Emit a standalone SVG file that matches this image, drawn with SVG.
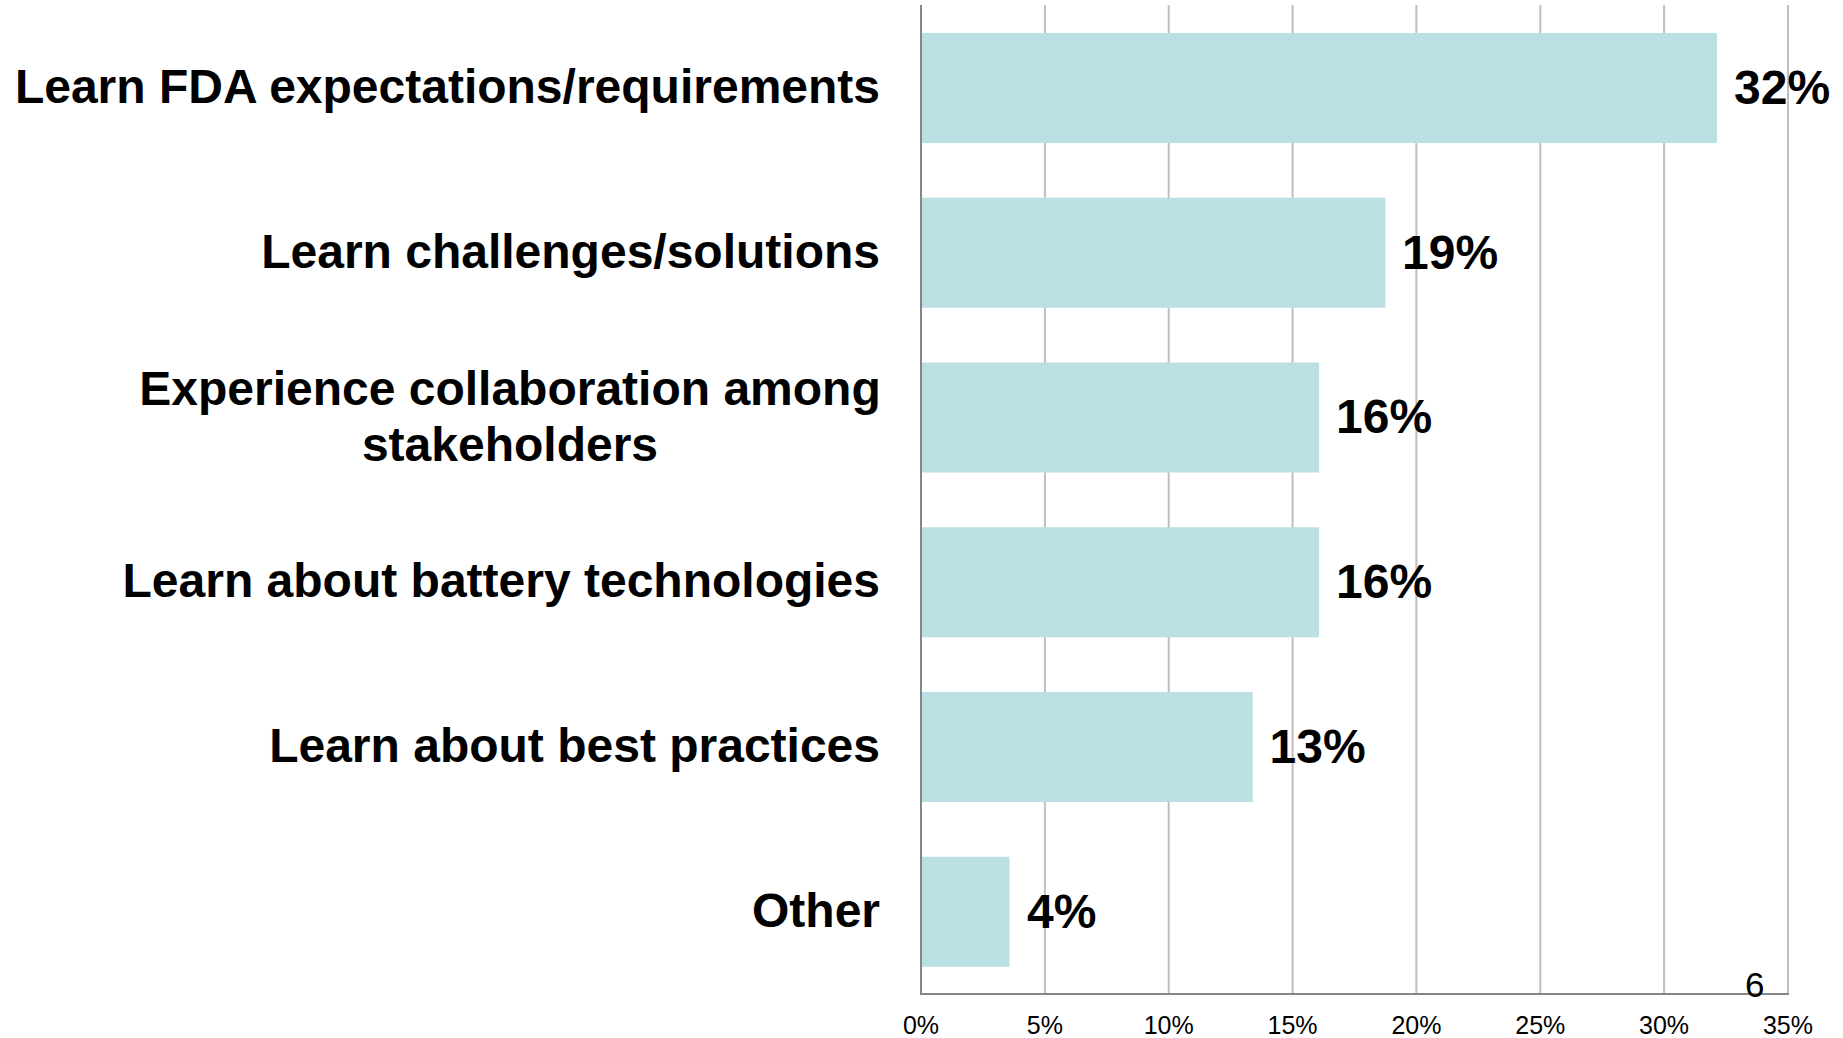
<svg xmlns="http://www.w3.org/2000/svg" width="1843" height="1038" viewBox="0 0 1843 1038">
<style>
.lbl{font-family:"Liberation Sans",Arial,sans-serif;font-weight:bold;font-size:48px;fill:#000}
.val{font-family:"Liberation Sans",Arial,sans-serif;font-weight:bold;font-size:48px;fill:#000}
.tick{font-family:"Liberation Sans",Arial,sans-serif;font-size:25px;fill:#000;text-anchor:middle}
.grid{stroke:#bfbfbf;stroke-width:2}
.axis{stroke:#868686;stroke-width:2}
.bar{fill:#bbe0e3}
</style>
<rect width="1843" height="1038" fill="#fff"/>
<g id="gridlines">
<line class="grid" x1="1044.9" y1="5" x2="1044.9" y2="994"/>
<line class="grid" x1="1168.7" y1="5" x2="1168.7" y2="994"/>
<line class="grid" x1="1292.6" y1="5" x2="1292.6" y2="994"/>
<line class="grid" x1="1416.4" y1="5" x2="1416.4" y2="994"/>
<line class="grid" x1="1540.3" y1="5" x2="1540.3" y2="994"/>
<line class="grid" x1="1664.1" y1="5" x2="1664.1" y2="994"/>
<line class="grid" x1="1788" y1="5" x2="1788" y2="994"/>
</g>
<g id="bar1"><rect class="bar" x="921" y="33" width="796" height="110"/><text class="lbl" x="880" y="103" text-anchor="end">Learn FDA expectations/requirements</text><text class="val" x="1734" y="103.5">32%</text></g>
<g id="bar2"><rect class="bar" x="921" y="197.75" width="464.4" height="110"/><text class="lbl" x="880" y="268" text-anchor="end">Learn challenges/solutions</text><text class="val" x="1402" y="268.5">19%</text></g>
<g id="bar3"><rect class="bar" x="921" y="362.5" width="398.1" height="110"/><text class="lbl" x="510" y="405" text-anchor="middle">Experience collaboration among</text><text class="lbl" x="510" y="460.5" text-anchor="middle">stakeholders</text><text class="val" x="1336" y="433">16%</text></g>
<g id="bar4"><rect class="bar" x="921" y="527.25" width="398.1" height="110"/><text class="lbl" x="880" y="597" text-anchor="end">Learn about battery technologies</text><text class="val" x="1336" y="597.5">16%</text></g>
<g id="bar5"><rect class="bar" x="921" y="692" width="331.7" height="110"/><text class="lbl" x="880" y="762" text-anchor="end">Learn about best practices</text><text class="val" x="1269.5" y="762.5">13%</text></g>
<g id="bar6"><rect class="bar" x="921" y="856.75" width="88.5" height="110"/><text class="lbl" x="880" y="927" text-anchor="end">Other</text><text class="val" x="1027" y="927.5">4%</text></g>
<g id="axes">
<line class="axis" x1="921" y1="5" x2="921" y2="995"/>
<line class="axis" x1="920" y1="994" x2="1789" y2="994"/>
</g>
<g id="ticks">
<text class="tick" x="921" y="1034">0%</text>
<text class="tick" x="1044.9" y="1034">5%</text>
<text class="tick" x="1168.7" y="1034">10%</text>
<text class="tick" x="1292.6" y="1034">15%</text>
<text class="tick" x="1416.4" y="1034">20%</text>
<text class="tick" x="1540.3" y="1034">25%</text>
<text class="tick" x="1664.1" y="1034">30%</text>
<text class="tick" x="1788" y="1034">35%</text>
</g>
<text x="1745" y="997" font-family="Liberation Sans, Arial, sans-serif" font-size="35" fill="#000">6</text>
</svg>
